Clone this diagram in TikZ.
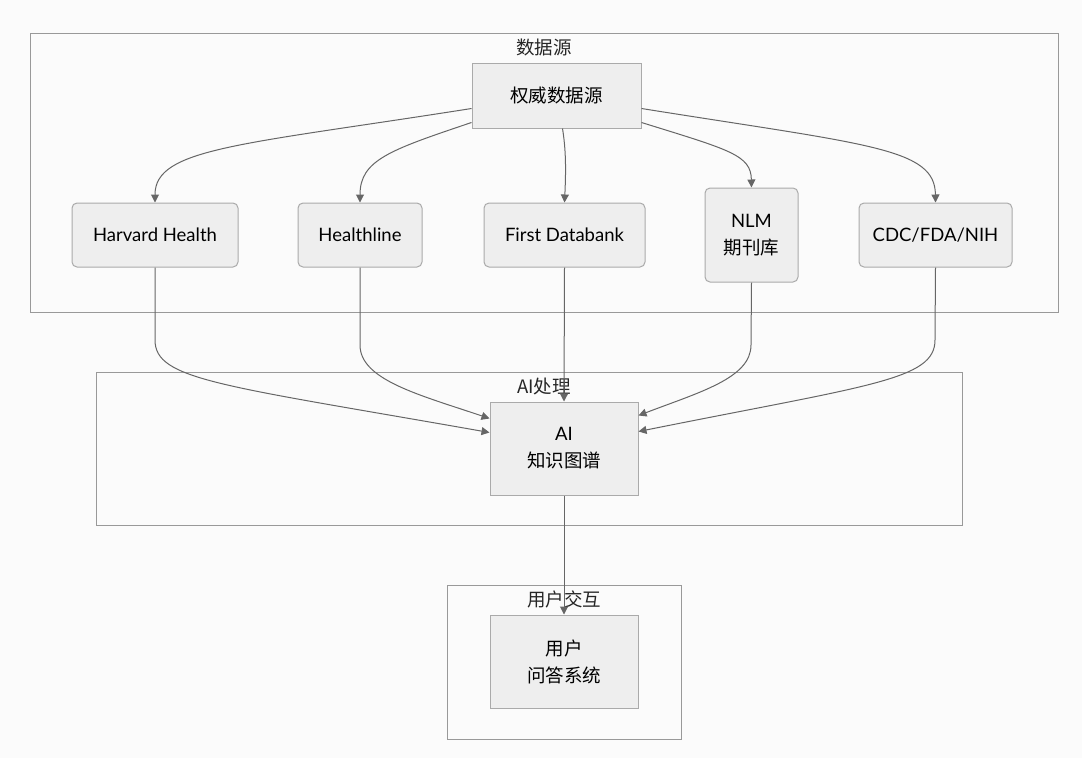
\documentclass[tikz,border=0pt]{standalone}
\usepackage{fontspec}
\setmainfont{Lato}
\newfontfamily\cjk{Noto Sans CJK SC}
\usetikzlibrary{arrows.meta}
\definecolor{bgc}{HTML}{FBFBFB}
\definecolor{nodefill}{HTML}{EEEEEE}
\definecolor{nodeline}{HTML}{AAAAAA}
\definecolor{clline}{HTML}{999999}
\definecolor{edgec}{HTML}{666666}
\tikzset{
  box/.style={draw=nodeline, fill=nodefill, line width=1pt, inner sep=0pt, align=center, font=\fontsize{18.5}{27}\selectfont, text=black},
  rbox/.style={box, rounded corners=5pt},
  cluster/.style={draw=clline, fill=bgc, line width=1pt},
  cllabel/.style={font=\cjk\fontsize{18.5}{22}\selectfont, text=black!85, inner sep=0pt},
  edge/.style={draw=edgec, line width=1pt, -{Triangle[length=8pt,width=8pt]}}
}
\begin{document}
\begin{tikzpicture}[x=1pt,y=-1pt]
\fill[bgc] (0,0) rectangle (1082,758);
\useasboundingbox (0,0) rectangle (1082,758);
% clusters
\draw[cluster] (30,33) rectangle (1058,312);
\node[cllabel] (lsrc) at (544,47) {数据源};
\draw[cluster] (96,372) rectangle (962,525);
\node[cllabel] (lai) at (544,386) {AI处理};
\draw[cluster] (447,585) rectangle (681,739);
\node[cllabel] (luser) at (564,599) {用户交互};
% nodes
\node[box, minimum width=169pt, minimum height=65pt] (top) at (556.5,95.5) {\cjk 权威数据源};
\node[rbox, minimum width=166pt, minimum height=64pt] (hh) at (155,235) {Harvard Health};
\node[rbox, minimum width=124pt, minimum height=64pt] (hl) at (360,235) {Healthline};
\node[rbox, minimum width=161pt, minimum height=64pt] (fd) at (564.5,235) {First Databank};
\node[rbox, minimum width=93pt, minimum height=94pt] (nlm) at (751.5,235) {NLM\\{\cjk 期刊库}};
\node[rbox, minimum width=153pt, minimum height=64pt] (cdc) at (935.5,235) {CDC/FDA/NIH};
\node[box, minimum width=148pt, minimum height=93pt] (ai) at (564,448.5) {AI\\{\cjk 知识图谱}};
\node[box, minimum width=148pt, minimum height=93pt] (qa) at (564,661.5) {{\cjk 用户}\\{\cjk 问答系统}};
% edges top -> sources
\draw[edge] ([yshift=-46pt]top.north west) .. controls (240,145) and (155,148) .. (hh.north);
\draw[edge] ([yshift=-60pt]top.north west) .. controls (390,150) and (360,160) .. (hl.north);
\draw[edge] ([xshift=6pt]top.south) .. controls (566,150) and (566,170) .. (fd.north);
\draw[edge] ([yshift=-60pt]top.north east) .. controls (730,150) and (751,155) .. (nlm.north);
\draw[edge] ([yshift=-46pt]top.north east) .. controls (870,145) and (935,148) .. (cdc.north);
% edges sources -> AI
\draw[edge] (hh.south) -- (155,340) .. controls (155,380) and (220,385) .. ([yshift=16pt]ai.west);
\draw[edge] (hl.south) -- (360,345) .. controls (360,380) and (420,395) .. ([yshift=30pt]ai.west);
\draw[edge] (fd.south) -- (ai.north);
\draw[edge] (nlm.south) -- (751,345) .. controls (751,378) and (700,392) .. ([yshift=33pt]ai.east);
\draw[edge] (cdc.south) -- (935,340) .. controls (935,380) and (870,385) .. ([yshift=17pt]ai.east);
% AI -> QA
\draw[edge] (ai.south) -- (qa.north);
\end{tikzpicture}
\end{document}
